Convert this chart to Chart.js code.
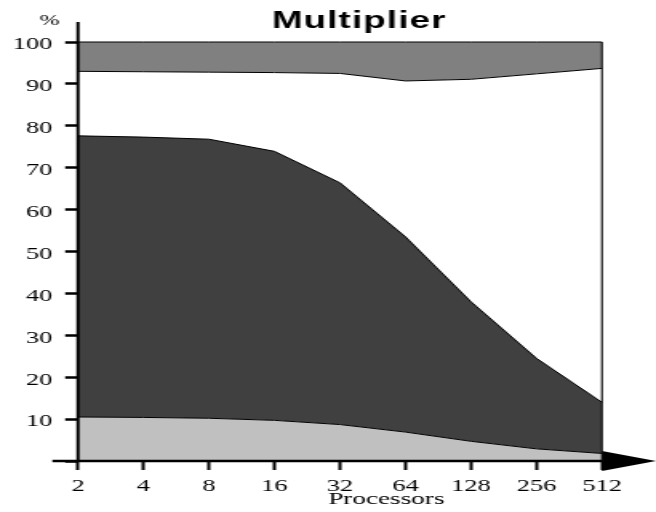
<!DOCTYPE html>
<html>
<head>
    <meta charset="utf-8" />
    <title>Multiplier</title>
    <script src="https://cdn.jsdelivr.net/npm/chart.js@4.4.1/dist/chart.umd.min.js"></script>
    <style type="text/css">
        html, body { margin: 0; padding: 0; background: #fff; overflow: hidden; }
        /* the original figure is stretched sideways, so draw narrow and widen */
        #wrap {
            width: 410px;
            height: 512px;
            transform: scaleX(1.6);
            transform-origin: 0 0;
        }
    </style>
</head>
<body>
<div id="wrap"><canvas id="chart"></canvas></div>

<script>
    // processors on the x axis
    var xLabels = ['2', '4', '8', '16', '32', '64', '128', '256', '512'];

    // upper edge of each band, in %
    var lightTop = [10.5, 10.4, 10.2, 9.7, 8.7, 6.9, 4.7, 2.9, 1.8];
    var darkTop = [77.6, 77.3, 76.8, 73.9, 66.4, 53.5, 38.0, 24.5, 14.0];
    var whiteTop = [93.0, 92.9, 92.8, 92.7, 92.5, 90.7, 91.1, 92.4, 93.7];
    var grayTop = [100, 100, 100, 100, 100, 100, 100, 100, 100];

    var yTicks = [0, 10, 20, 30, 40, 50, 60, 70, 80, 90, 100];

    var decor = {
        id: 'decor',
        afterDraw: function (chart) {
            var ctx = chart.ctx;
            var xs = chart.scales.x, ys = chart.scales.y;
            var left = xs.getPixelForValue(0);
            var right = xs.getPixelForValue(xLabels.length - 1);
            var top = ys.getPixelForValue(100);
            var base = ys.getPixelForValue(0);
            var mid = (chart.chartArea.left + chart.chartArea.right) / 2;

            ctx.save();
            ctx.strokeStyle = '#000';
            ctx.fillStyle = '#000';

            // right edge of the bands
            ctx.lineWidth = 1.1;
            ctx.beginPath();
            ctx.moveTo(right, top);
            ctx.lineTo(right, base);
            ctx.stroke();

            // x axis with arrow head
            ctx.lineWidth = 2.5;
            ctx.beginPath();
            ctx.moveTo(left - 16, base);
            ctx.lineTo(right, base);
            ctx.stroke();
            ctx.beginPath();
            ctx.moveTo(right, base - 10);
            ctx.lineTo(chart.width, base);
            ctx.lineTo(right, base + 10);
            ctx.closePath();
            ctx.fill();

            // y axis, runs above 100
            ctx.lineWidth = 2;
            ctx.beginPath();
            ctx.moveTo(left, top - 20);
            ctx.lineTo(left, base + 1);
            ctx.stroke();

            // texts
            ctx.textAlign = 'center';
            ctx.textBaseline = 'alphabetic';
            ctx.font = 'bold 23px "Liberation Sans", Arial, sans-serif';
            ctx.letterSpacing = '0.7px';
            ctx.fillText('Multiplier', mid + 12, 28);
            ctx.letterSpacing = '0px';

            ctx.font = '15px "Liberation Serif", "Times New Roman", serif';
            ctx.fillText('%', 31, 25);

            ctx.font = '17px "Liberation Serif", "Times New Roman", serif';
            ctx.fillText('Processors', mid + 29, 504);
            ctx.restore();
        }
    };

    var ctx = document.getElementById('chart').getContext('2d');

    var myChart = new Chart(ctx, {
        type: 'line',
        data: {
            labels: xLabels,
            datasets: [
                {
                    label: 'light',
                    data: lightTop,
                    fill: 'origin',
                    backgroundColor: '#c0c0c0',
                    borderColor: '#000',
                    borderWidth: 1,
                    pointRadius: 0,
                    clip: false
                },
                {
                    label: 'dark',
                    data: darkTop,
                    fill: '-1',
                    backgroundColor: '#404040',
                    borderColor: '#000',
                    borderWidth: 1,
                    pointRadius: 0,
                    clip: false
                },
                {
                    label: 'white',
                    data: whiteTop,
                    fill: '-1',
                    backgroundColor: '#ffffff',
                    borderColor: '#000',
                    borderWidth: 1,
                    pointRadius: 0,
                    clip: false
                },
                {
                    label: 'gray',
                    data: grayTop,
                    fill: '-1',
                    backgroundColor: '#808080',
                    borderColor: '#000',
                    borderWidth: 1,
                    pointRadius: 0,
                    clip: false
                }
            ]
        },
        options: {
            responsive: true,
            maintainAspectRatio: false,
            animation: false,
            events: [],
            layout: {
                padding: { top: 42, right: 33.75, left: 0, bottom: 0 }
            },
            plugins: {
                legend: { display: false },
                title: { display: false },
                tooltip: { enabled: false }
            },
            elements: {
                line: { tension: 0 }
            },
            scales: {
                x: {
                    type: 'category',
                    offset: false,
                    border: { display: false },
                    grid: {
                        drawOnChartArea: false,
                        drawTicks: true,
                        tickLength: 9,
                        tickWidth: 2,
                        tickColor: '#000'
                    },
                    ticks: {
                        color: '#000',
                        padding: 7,
                        maxRotation: 0,
                        autoSkip: false,
                        font: { family: '"Liberation Serif", "Times New Roman", serif', size: 16.5 }
                    },
                    afterFit: function (s) { s.height = 51; }
                },
                y: {
                    min: 0,
                    max: 100,
                    border: { display: false },
                    grid: {
                        drawOnChartArea: false,
                        drawTicks: true,
                        tickLength: 8,
                        tickWidth: 2.5,
                        tickColor: '#000'
                    },
                    afterBuildTicks: function (s) {
                        s.ticks = yTicks.map(function (v) { return { value: v }; });
                    },
                    ticks: {
                        color: '#000',
                        padding: 8,
                        labelOffset: 3,
                        font: { family: '"Liberation Serif", "Times New Roman", serif', size: 16.5 },
                        callback: function (v) { return v === 0 ? '' : v; }
                    },
                    afterFit: function (s) { s.width = 48.75; }
                }
            }
        },
        plugins: [decor]
    });
</script>
</body>
</html>
